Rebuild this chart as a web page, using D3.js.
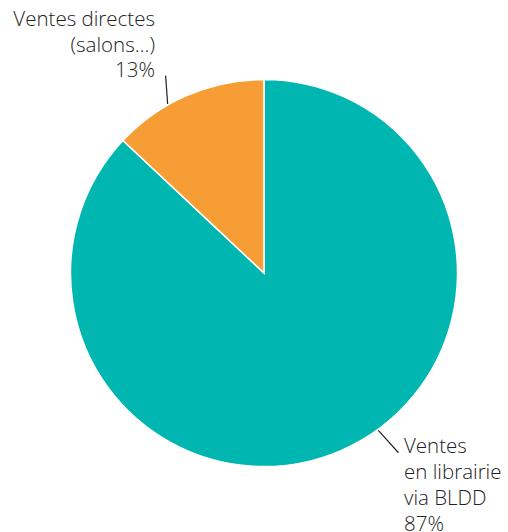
<!DOCTYPE html>
<html><head><meta charset="utf-8">
<script src="https://cdn.jsdelivr.net/npm/d3@7"></script>
<style>body{margin:0;background:#fff}svg{display:block}</style>
</head><body>
<svg id="c" width="508" height="532"></svg>
<script>
const categories = ["Ventes en librairie via BLDD", "Ventes directes (salons…)"];
const values = [87, 13];
const colors = ["#00B6B1", "#F79D36"];
const labelLines = [["Ventes", "en librairie", "via BLDD", "87%"], ["Ventes directes", "(salons…)", "13%"]];

const svg = d3.select("#c");
const cx = 264, cy = 273, r = 193.5;
const g = svg.append("g").attr("transform", `translate(${cx},${cy})`);

const data = categories.map((c, i) => ({c, v: values[i], i}));
const pie = d3.pie().value(d => d.v).sort(null);
const arcs = pie(data);
const arc = d3.arc().innerRadius(0).outerRadius(r);

g.selectAll("path").data(arcs).join("path")
  .attr("d", arc)
  .attr("fill", d => colors[d.data.i])
  .attr("stroke", "#fff").attr("stroke-width", 1.5);

const leaders = [
  {a0: 144, r0: r + 1, a1: 143.2, r1: r + 31},
  {a0: 330.3, r0: r + 1, a1: 333.5, r1: r + 27}
];
const pt = (a, rr) => [Math.sin(a * Math.PI / 180) * rr, -Math.cos(a * Math.PI / 180) * rr];
leaders.forEach(l => {
  const p0 = pt(l.a0, l.r0), p1 = pt(l.a1, l.r1);
  g.append("line").attr("x1", p0[0]).attr("y1", p0[1]).attr("x2", p1[0]).attr("y2", p1[1])
    .attr("stroke", "#222").attr("stroke-width", 1.2);
});

const font = "'Open Sans', Lato, sans-serif";
const t1 = svg.append("text").attr("x", 404).attr("y", 453)
  .attr("font-family", font).attr("font-weight", 300).attr("font-size", 20.5).attr("fill", "#222");
labelLines[0].forEach((s, k) => t1.append("tspan").attr("x", 404).attr("dy", k ? 26 : 0).text(s));
const t2 = svg.append("text").attr("x", 155).attr("y", 26).attr("text-anchor", "end")
  .attr("font-family", font).attr("font-weight", 300).attr("font-size", 20.5).attr("fill", "#222");
labelLines[1].forEach((s, k) => t2.append("tspan").attr("x", 155).attr("dy", k ? 25.5 : 0).text(s));
</script>
</body></html>
